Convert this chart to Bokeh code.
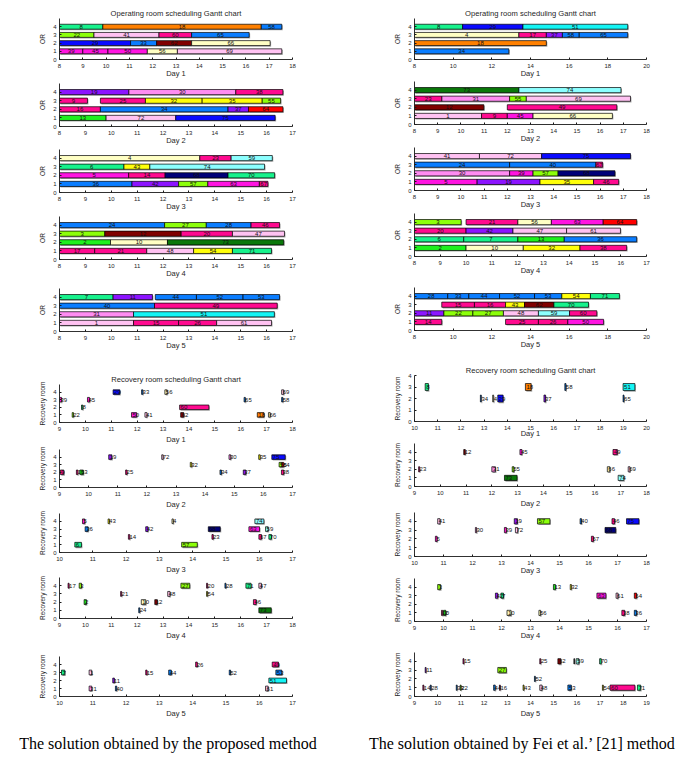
from bokeh.plotting import figure
from bokeh.models import Range1d, FixedTicker, ColumnDataSource
from bokeh.layouts import column, row
from bokeh.embed import file_html
from bokeh.resources import INLINE
from bokeh.core.properties import value

# ---------------- DATA ----------------
TITLES = ["Operating room scheduling Gantt chart", "Recovery room scheduling Gantt chart"]
YLABELS = ["OR", "Recovery room"]
DAYS = ["Day 1", "Day 2", "Day 3", "Day 4", "Day 5"]
CAPTIONS = ["The solution obtained by the proposed method",
            "The solution obtained by Fei et al.\u2019 [21] method"]
ROOM_TICKS = [0, 1, 2, 3, 4]

# x-axis limits per day: (min, max, tick step)
PROP_OR_XLIM = [(8, 18, 1), (8, 17, 1), (8, 17, 1), (8, 17, 1), (8, 17, 1)]
PROP_RR_XLIM = [(9, 18, 1), (9, 17, 1), (10, 17, 1), (9, 18, 1), (10, 17, 1)]
FEI_OR_XLIM = [(8, 20, 2), (8, 18, 1), (8, 18, 1), (8, 17, 1), (8, 20, 2)]
FEI_RR_XLIM = [(10, 20, 1), (9, 18, 1), (10, 18, 1), (9, 17, 1), (9, 19, 1)]
PROP_RR_YMAX = [5, 5, 5, 5, 5]
FEI_RR_YMAX = [4, 5, 5, 5, 5]

# (room, start hour, end hour, patient)
PROP_OR_D1 = [(4, 8.00, 9.86, "8"), (4, 9.86, 16.66, "18"), (4, 16.66, 17.54, "58"),
              (3, 8.00, 9.48, "22"), (3, 9.48, 12.27, "41"), (3, 12.27, 13.67, "60"), (3, 13.67, 16.14, "65"),
              (2, 8.00, 11.05, "29"), (2, 11.05, 12.17, "33"), (2, 12.17, 13.67, "62"), (2, 13.67, 17.04, "66"),
              (1, 8.00, 9.00, "39"), (1, 9.00, 10.08, "45"), (1, 10.08, 11.77, "50"), (1, 11.77, 13.06, "56"),
              (1, 13.06, 17.54, "69")]
PROP_OR_D2 = [(4, 8.00, 10.68, "19"), (4, 10.68, 14.81, "30"), (4, 14.81, 16.63, "38"),
              (3, 8.00, 9.08, "9"), (3, 9.58, 11.32, "25"), (3, 11.32, 13.51, "32"), (3, 13.51, 15.83, "35"),
              (3, 15.83, 16.54, "55"),
              (2, 8.00, 9.58, "16"), (2, 9.58, 14.51, "34"), (2, 14.51, 15.30, "37"), (2, 15.30, 16.63, "64"),
              (1, 8.00, 9.80, "13"), (1, 9.80, 12.49, "72"), (1, 12.49, 16.33, "75")]
PROP_OR_D3 = [(4, 8.00, 13.42, "4"), (4, 13.42, 14.63, "23"), (4, 14.63, 16.22, "59"),
              (3, 8.00, 10.49, "6"), (3, 10.49, 11.49, "43"), (3, 11.49, 15.92, "74"),
              (2, 8.00, 10.67, "5"), (2, 10.67, 12.08, "14"), (2, 12.08, 14.51, "68"), (2, 14.51, 16.31, "70"),
              (1, 8.00, 10.80, "36"), (1, 10.80, 12.60, "42"), (1, 12.60, 13.73, "57"), (1, 13.73, 15.72, "63"),
              (1, 15.72, 16.05, "67")]
PROP_OR_D4 = [(4, 8.00, 12.06, "24"), (4, 12.06, 13.67, "27"), (4, 13.67, 15.40, "28"), (4, 15.40, 16.50, "46"),
              (3, 8.00, 9.75, "3"), (3, 9.75, 12.70, "12"), (3, 12.70, 14.68, "20"), (3, 14.68, 16.69, "47"),
              (2, 8.00, 9.97, "2"), (2, 9.97, 12.17, "10"), (2, 12.17, 16.66, "73"),
              (1, 8.00, 9.36, "17"), (1, 9.36, 11.37, "21"), (1, 11.37, 13.18, "48"), (1, 13.18, 14.68, "54"),
              (1, 14.68, 16.19, "71")]
PROP_OR_D5 = [(4, 8.00, 10.07, "7"), (4, 10.07, 11.59, "11"), (4, 11.70, 13.29, "44"), (4, 13.29, 15.09, "52"),
              (4, 15.09, 16.50, "53"),
              (3, 8.00, 11.67, "40"), (3, 11.67, 16.41, "49"),
              (2, 8.00, 10.86, "31"), (2, 10.86, 16.30, "51"),
              (1, 8.00, 10.86, "1"), (1, 10.86, 12.60, "15"), (1, 12.60, 14.07, "26"), (1, 14.07, 16.19, "61")]

PROP_RR_D1 = [(4, 11.07, 11.33, "29"), (4, 12.17, 12.22, "33"), (4, 13.07, 13.16, "56"), (4, 17.58, 17.66, "69"),
              (3, 9.00, 9.08, "39"), (3, 10.08, 10.16, "45"), (3, 16.13, 16.18, "65"), (3, 17.58, 17.63, "58"),
              (2, 9.85, 9.90, "8"), (2, 13.64, 14.77, "60"),
              (1, 9.49, 9.54, "22"), (1, 11.78, 11.98, "50"), (1, 12.30, 12.38, "41"), (1, 13.68, 13.80, "62"),
              (1, 16.64, 16.90, "18"), (1, 17.07, 17.14, "66")]
PROP_RR_D2 = [(4, 10.69, 10.80, "19"), (4, 12.51, 12.56, "72"), (4, 14.82, 14.88, "30"), (4, 15.84, 15.89, "35"),
              (4, 16.29, 16.75, "75"),
              (3, 13.49, 13.54, "32"), (3, 16.54, 16.64, "55"), (3, 16.64, 16.70, "64"),
              (2, 9.03, 9.15, "9"), (2, 9.58, 9.63, "16"), (2, 9.70, 9.82, "13"), (2, 11.27, 11.32, "25"),
              (2, 14.51, 14.56, "34"), (2, 15.31, 15.40, "37"), (2, 16.62, 16.70, "38")]
PROP_RR_D3 = [(4, 10.69, 10.76, "5"), (4, 11.46, 11.50, "43"), (4, 13.38, 13.42, "4"), (4, 15.87, 16.14, "74"),
              (3, 10.77, 10.86, "36"), (3, 12.59, 12.66, "42"), (3, 14.47, 14.83, "68"), (3, 15.69, 16.01, "63"),
              (3, 16.19, 16.27, "59"),
              (2, 12.07, 12.11, "14"), (2, 14.58, 14.62, "23"), (2, 15.99, 16.07, "67"), (2, 16.29, 16.37, "70"),
              (1, 10.46, 10.66, "6"), (1, 13.67, 14.14, "57")]
PROP_RR_D4 = [(4, 9.33, 9.37, "17"), (4, 9.76, 9.85, "3"), (4, 13.69, 14.03, "27"), (4, 14.68, 14.72, "20"),
              (4, 15.39, 15.43, "28"), (4, 16.20, 16.40, "71"), (4, 16.70, 16.80, "47"),
              (3, 11.36, 11.40, "21"), (3, 13.18, 13.27, "48"), (3, 14.68, 14.72, "54"),
              (2, 9.95, 10.04, "2"), (2, 12.16, 12.33, "10"), (2, 12.68, 12.78, "12"), (2, 16.49, 16.60, "46"),
              (1, 12.06, 12.10, "24"), (1, 16.70, 17.18, "73")]
PROP_RR_D5 = [(4, 14.09, 14.14, "26"), (4, 16.39, 16.58, "49"),
              (3, 10.06, 10.16, "7"), (3, 10.89, 10.97, "1"), (3, 12.59, 12.63, "15"), (3, 13.28, 13.36, "44"),
              (3, 15.10, 15.14, "52"), (3, 16.50, 16.68, "53"),
              (2, 11.60, 11.65, "11"), (2, 16.29, 16.82, "51"),
              (1, 10.89, 10.97, "31"), (1, 11.68, 11.72, "40"), (1, 16.19, 16.27, "61")]

FEI_OR_D1 = [(4, 8.00, 10.49, "8"), (4, 10.49, 13.61, "29"), (4, 13.61, 19.03, "51"),
             (3, 8.00, 13.40, "4"), (3, 13.40, 14.82, "17"), (3, 14.82, 15.65, "37"), (3, 15.65, 16.52, "58"),
             (3, 16.52, 19.03, "65"),
             (2, 8.00, 14.82, "18"),
             (1, 8.00, 12.88, "34")]
FEI_OR_D2 = [(4, 8.00, 12.50, "73"), (4, 12.50, 16.90, "74"),
             (3, 8.00, 9.18, "23"), (3, 9.18, 12.10, "31"), (3, 12.10, 12.82, "55"), (3, 12.82, 17.31, "69"),
             (2, 8.00, 10.99, "12"), (2, 12.00, 16.72, "49"),
             (1, 8.00, 10.89, "1"), (1, 10.89, 12.00, "9"), (1, 12.00, 13.11, "45"), (1, 13.11, 16.53, "66")]
FEI_OR_D3 = [(4, 8.00, 10.80, "41"), (4, 10.80, 13.48, "72"), (4, 13.48, 17.31, "75"),
             (3, 8.00, 12.10, "24"), (3, 12.10, 15.82, "40"), (3, 15.82, 16.11, "67"),
             (2, 8.00, 12.10, "30"), (2, 12.10, 13.11, "39"), (2, 13.11, 14.19, "57"), (2, 14.19, 16.64, "68"),
             (1, 8.00, 10.70, "5"), (1, 10.70, 13.41, "19"), (1, 13.41, 15.72, "35"), (1, 15.72, 16.80, "46")]
FEI_OR_D4 = [(4, 8.00, 9.81, "3"), (4, 10.00, 12.01, "21"), (4, 12.01, 13.31, "56"), (4, 13.31, 15.32, "63"),
             (4, 15.32, 16.62, "64"),
             (3, 8.00, 10.00, "20"), (3, 10.00, 11.82, "42"), (3, 11.82, 13.90, "47"), (3, 13.90, 15.99, "61"),
             (2, 8.00, 9.91, "6"), (2, 9.91, 12.01, "7"), (2, 12.01, 13.81, "13"), (2, 13.81, 16.62, "36"),
             (1, 8.00, 10.00, "2"), (1, 10.00, 12.22, "10"), (1, 12.22, 14.42, "32"), (1, 14.42, 16.23, "38")]
FEI_OR_D5 = [(4, 8.00, 9.72, "28"), (4, 9.72, 10.81, "33"), (4, 10.81, 12.40, "44"), (4, 12.40, 14.21, "52"),
             (4, 14.21, 15.62, "53"), (4, 15.62, 17.10, "54"), (4, 17.10, 18.60, "71"),
             (3, 9.41, 11.10, "15"), (3, 11.10, 12.71, "16"), (3, 12.71, 13.69, "43"), (3, 13.69, 15.21, "62"),
             (3, 15.21, 17.00, "70"),
             (2, 8.00, 9.52, "11"), (2, 9.52, 11.02, "22"), (2, 11.02, 12.60, "27"), (2, 12.60, 14.41, "48"),
             (2, 14.41, 16.02, "59"), (2, 16.02, 17.43, "60"),
             (1, 8.00, 9.41, "14"), (1, 12.71, 14.41, "25"), (1, 14.41, 15.93, "26"), (1, 15.93, 17.78, "50")]

FEI_RR_D1 = [(3, 10.46, 10.60, "8"), (3, 14.78, 15.03, "18"), (3, 16.48, 16.53, "58"), (3, 18.99, 19.50, "51"),
             (2, 12.84, 12.88, "34"), (2, 13.37, 13.41, "4"), (2, 13.59, 13.82, "29"), (2, 15.58, 15.65, "37"),
             (2, 18.99, 19.03, "65")]
FEI_RR_D2 = [(4, 10.91, 10.97, "12"), (4, 13.09, 13.17, "45"), (4, 16.70, 16.87, "49"),
             (2, 9.16, 9.20, "23"), (2, 12.00, 12.14, "31"), (2, 12.79, 12.86, "55"), (2, 16.48, 16.58, "66"),
             (2, 17.29, 17.36, "69"),
             (1, 12.49, 12.98, "73"), (1, 16.90, 17.12, "74")]
FEI_RR_D3 = [(4, 10.80, 10.88, "41"), (4, 13.44, 13.55, "19"), (4, 14.24, 14.67, "57"), (4, 15.71, 15.76, "40"),
             (4, 16.81, 16.90, "46"), (4, 17.31, 17.74, "75"),
             (3, 12.10, 12.14, "30"), (3, 13.10, 13.17, "39"), (3, 13.48, 13.56, "72"), (3, 16.57, 16.94, "68"),
             (2, 10.72, 10.78, "5"), (2, 16.10, 16.17, "67")]
FEI_RR_D4 = [(4, 9.80, 9.90, "3"), (4, 13.79, 13.86, "13"), (4, 14.37, 14.41, "32"),
             (3, 11.79, 11.87, "42"), (3, 11.98, 12.07, "7"), (3, 15.29, 15.60, "63"), (3, 15.95, 16.02, "61"),
             (3, 16.58, 16.66, "64"),
             (1, 9.93, 9.97, "20"), (1, 10.00, 10.08, "2"), (1, 12.19, 12.33, "10"), (1, 13.29, 13.35, "56"),
             (1, 16.15, 16.25, "38"), (1, 16.58, 16.66, "36")]
FEI_RR_D5 = [(4, 11.09, 11.13, "15"), (4, 14.40, 14.44, "25"), (4, 15.18, 15.31, "62"), (4, 15.87, 15.90, ""),
             (4, 15.97, 16.09, "59"), (4, 16.98, 17.05, "70"),
             (3, 9.46, 9.50, "11"), (3, 12.59, 12.96, "27"),
             (2, 14.17, 14.21, "52"),
             (1, 9.36, 9.40, "14"), (1, 9.68, 9.72, "28"), (1, 10.80, 10.84, "33"), (1, 10.97, 11.01, "22"),
             (1, 12.41, 12.48, "44"), (1, 12.66, 12.70, "16"), (1, 13.68, 13.72, "43"), (1, 14.40, 14.50, "48"),
             (1, 15.61, 15.76, "53"), (1, 17.10, 17.14, "54"), (1, 17.43, 18.50, "60"), (1, 18.61, 18.75, "71")]

# ---------------- STYLE ----------------
MINT, ORANGE, DBLUE, CHART = "#17F28C", "#FF8000", "#0A7DFF", "#8CFF0A"
LPINK, DPINK, MAGENTA, BLUE = "#FFC2F2", "#FF0A8F", "#FF14E1", "#0A0AFF"
DRED, LYEL, VIOLET, YELLOW = "#800000", "#FFFFC4", "#8C14FF", "#FFFF0A"
RED, GREEN, NAVY, LCYAN = "#FF0000", "#1EF01E", "#000078", "#8CFFFF"
CYAN, DGREEN, LMAG = "#14F5F5", "#0A780A", "#FF8CF2"
PATIENT_COLORS = {
    "1": LPINK, "2": GREEN, "3": CHART, "4": LYEL, "5": MAGENTA, "6": MINT, "7": MINT, "8": MINT,
    "9": DPINK, "10": LYEL, "11": VIOLET, "12": DRED, "13": GREEN, "14": DPINK, "15": DPINK, "16": DPINK,
    "17": DPINK, "18": ORANGE, "19": VIOLET, "20": DPINK, "21": DPINK, "22": CHART, "23": DPINK, "24": DBLUE,
    "25": DPINK, "26": DPINK, "27": CHART, "28": DBLUE, "29": BLUE, "30": LMAG, "31": LMAG, "32": YELLOW,
    "33": DBLUE, "34": DBLUE, "35": YELLOW, "36": DBLUE, "37": VIOLET, "38": DPINK, "39": MAGENTA, "40": DBLUE,
    "41": LPINK, "42": VIOLET, "43": YELLOW, "44": DBLUE, "45": MAGENTA, "46": DPINK, "47": LPINK, "48": LPINK,
    "49": DPINK, "50": MAGENTA, "51": CYAN, "52": DBLUE, "53": DBLUE, "54": YELLOW, "55": CHART, "56": LYEL,
    "57": CHART, "58": DBLUE, "59": LCYAN, "60": DPINK, "61": LPINK, "62": DRED, "63": MAGENTA, "64": RED,
    "65": DBLUE, "66": LYEL, "67": DPINK, "68": NAVY, "69": LPINK, "70": MINT, "71": MINT, "72": LPINK,
    "73": DGREEN, "74": LCYAN, "75": BLUE,
}
FONT = "Liberation Sans"
TXT = "#262626"
AX = "#1a1a1a"
HALF = 0.3


def panel(data, xlim, ymax, geom, width, bl, br, day, ylabel, title, xlab_off, recovery):
    height, bt, bb = geom
    x0, x1, step = xlim
    p = figure(width=width, height=height, x_range=Range1d(x0, x1), y_range=Range1d(0, ymax),
               output_backend="svg", toolbar_location=None, title=title,
               min_border_left=bl, min_border_right=br, min_border_top=bt, min_border_bottom=bb)
    p.outline_line_color = None
    p.grid.visible = False
    p.background_fill_color = "white"
    p.border_fill_color = "white"
    if title:
        p.title.text_font = FONT
        p.title.text_font_size = "7.6px"
        p.title.text_font_style = "normal"
        p.title.text_color = TXT
        p.title.align = "center"
        p.title.standoff = 1
    fw = width - bl - br
    fh = height - bt - bb
    dx = 1.0 * (x1 - x0) / fw
    dy = 1.2 * ymax / fh
    rows = [d[0] for d in data]
    st = [d[1] for d in data]
    en = [d[2] for d in data]
    lab = [d[3] for d in data]
    col = [PATIENT_COLORS.get(l, "#303030") for l in lab]
    src = ColumnDataSource(dict(
        l=st, r=en, b=[y - HALF for y in rows], t=[y + HALF for y in rows],
        sl=[v + dx for v in st], sr=[v + dx for v in en],
        sb=[y - HALF - dy for y in rows], stp=[y + HALF - dy for y in rows],
        c=col, lab=lab, y=rows,
        tx=(st if recovery else [(a + b) / 2 for a, b in zip(st, en)])))
    p.quad(left="sl", right="sr", bottom="sb", top="stp", source=src,
           fill_color="#a8a8a8", line_color=None)
    p.quad(left="l", right="r", bottom="b", top="t", source=src,
           fill_color="c", line_color="black", line_width=0.7)
    p.text(x="tx", y="y", text="lab", source=src, text_font=value(FONT), text_font_size=value("6px"),
           text_color="#111111", text_align=("left" if recovery else "center"), text_baseline="middle",
           x_offset=(1 if recovery else 0))
    xa = p.xaxis[0]
    ya = p.yaxis[0]
    xa.ticker = FixedTicker(ticks=list(range(x0, x1 + 1, step)))
    ya.ticker = FixedTicker(ticks=[t for t in ROOM_TICKS if t <= ymax])
    for a in (xa, ya):
        a.axis_line_color = AX
        a.axis_line_width = 0.9
        a.major_tick_line_color = AX
        a.major_tick_in = 2
        a.major_tick_out = 0
        a.minor_tick_line_color = None
        a.major_label_text_font = FONT
        a.major_label_text_font_size = "6px"
        a.major_label_text_color = TXT
        a.axis_label_text_font = FONT
        a.axis_label_text_font_style = "normal"
        a.axis_label_text_color = TXT
    xa.major_label_standoff = 4
    ya.major_label_standoff = 3
    xa.axis_label = day
    xa.axis_label_text_font_size = "7.5px"
    xa.axis_label_standoff = xlab_off
    ya.axis_label = ylabel
    ya.axis_label_text_font_size = "6.5px"
    ya.axis_label_standoff = 4
    return p


# geometry measured from the page's top-left corner: (outer height, top border, bottom border)
LEFT_GEOM = [(80, 18, 18), (67, 3, 18), (66, 2, 18), (67, 3, 18), (72, 8, 18),
             (94, 32, 23), (65, 3, 23), (65, 2, 23), (66, 1, 23), (78, 14, 23)]
RIGHT_GEOM = [(80, 18, 18), (65, 1, 18), (66, 2, 18), (66, 2, 18), (74, 10, 18),
              (91, 24, 21), (68, 1, 22), (67, 2, 20), (65, 1, 20), (78, 10, 24)]
LEFT_W, LEFT_BL, LEFT_BR = 360, 59, 68
RIGHT_W, RIGHT_BL, RIGHT_BR = 327, 54, 41
OR_XLAB = [-2, -2, -2, -2, -2]
PROP_RR_XLAB = [1, 1, 1, 1, 1]
FEI_RR_XLAB = [-4, 1, -2, -2, 1]

prop_or = [PROP_OR_D1, PROP_OR_D2, PROP_OR_D3, PROP_OR_D4, PROP_OR_D5]
prop_rr = [PROP_RR_D1, PROP_RR_D2, PROP_RR_D3, PROP_RR_D4, PROP_RR_D5]
fei_or = [FEI_OR_D1, FEI_OR_D2, FEI_OR_D3, FEI_OR_D4, FEI_OR_D5]
fei_rr = [FEI_RR_D1, FEI_RR_D2, FEI_RR_D3, FEI_RR_D4, FEI_RR_D5]

left_figs, right_figs = [], []
for i in range(5):
    left_figs.append(panel(prop_or[i], PROP_OR_XLIM[i], 5, LEFT_GEOM[i], LEFT_W, LEFT_BL, LEFT_BR,
                           DAYS[i], YLABELS[0], TITLES[0] if i == 0 else None, OR_XLAB[i], False))
    right_figs.append(panel(fei_or[i], FEI_OR_XLIM[i], 5, RIGHT_GEOM[i], RIGHT_W, RIGHT_BL, RIGHT_BR,
                            DAYS[i], YLABELS[0], TITLES[0] if i == 0 else None, OR_XLAB[i], False))
for i in range(5):
    left_figs.append(panel(prop_rr[i], PROP_RR_XLIM[i], PROP_RR_YMAX[i], LEFT_GEOM[5 + i], LEFT_W, LEFT_BL,
                           LEFT_BR, DAYS[i], YLABELS[1], TITLES[1] if i == 0 else None, PROP_RR_XLAB[i], True))
    right_figs.append(panel(fei_rr[i], FEI_RR_XLIM[i], FEI_RR_YMAX[i], RIGHT_GEOM[5 + i], RIGHT_W, RIGHT_BL,
                            RIGHT_BR, DAYS[i], YLABELS[1], TITLES[1] if i == 0 else None, FEI_RR_XLAB[i], True))

# captions
cap_w, cap_h = LEFT_W + RIGHT_W, 36
cap = figure(width=cap_w, height=cap_h, x_range=Range1d(0, cap_w), y_range=Range1d(0, cap_h),
             output_backend="svg", toolbar_location=None, min_border=0)
cap.axis.visible = False
cap.grid.visible = False
cap.outline_line_color = None
left_center = LEFT_BL + (LEFT_W - LEFT_BL - LEFT_BR) / 2 - 8
right_center = LEFT_W + RIGHT_BL + (RIGHT_W - RIGHT_BL - RIGHT_BR) / 2 - 8
cap.text(x=[left_center, right_center], y=[13, 13], text=CAPTIONS, text_font=value("Liberation Serif"),
         text_font_size=value("16px"), text_color="black", text_align="center", text_baseline="middle")

page = column(row(column(*left_figs), column(*right_figs)), cap)
open("out.html", "w").write(file_html(page, INLINE))
